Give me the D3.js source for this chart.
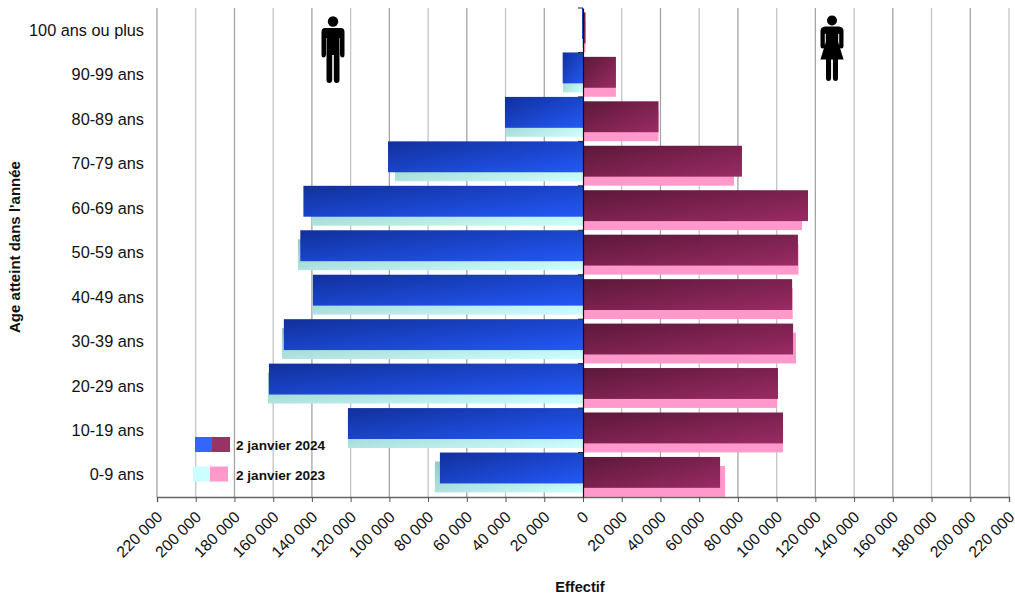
<!DOCTYPE html>
<html><head><meta charset="utf-8">
<script src="https://cdn.jsdelivr.net/npm/d3@7/dist/d3.min.js"></script>
<style>html,body{margin:0;padding:0;background:#fff}svg{display:block}text{font-family:"Liberation Sans",Arial,sans-serif}</style>
</head><body><svg id="c" width="1015" height="598"></svg>
<script>
const categories=["100 ans ou plus","90-99 ans","80-89 ans","70-79 ans","60-69 ans","50-59 ans","40-49 ans","30-39 ans","20-29 ans","10-19 ans","0-9 ans"];
const men2024=[500,10500,40300,100700,144400,146000,139500,154500,162200,121400,73900];
const men2023=[400,10300,39800,97100,140000,147200,139500,155500,162700,121400,76500];
const women2024=[1300,17000,39000,82100,116200,111000,108000,108500,100700,103300,70800];
const women2023=[1300,17000,39000,78000,113100,111300,108300,110000,100200,103300,73400];
const tickValues=[-220000,-200000,-180000,-160000,-140000,-120000,-100000,-80000,-60000,-40000,-20000,0,20000,40000,60000,80000,100000,120000,140000,160000,180000,200000,220000];
const legendLabels=["2 janvier 2024","2 janvier 2023"];
const axisTitleX="Effectif", axisTitleY="Age atteint dans l'année";

const svg=d3.select("#c");
const x=d3.scaleLinear().domain([-220000,220000]).range([157,1009]);
const y=d3.scaleBand().domain(categories).range([8,497]);
const defs=svg.append("defs");
function grad(id,a,b){const g=defs.append("linearGradient").attr("id",id).attr("x1",0).attr("y1",0).attr("x2",1).attr("y2",1);
 g.append("stop").attr("offset",0).attr("stop-color",a);g.append("stop").attr("offset",1).attr("stop-color",b);}
grad("gm24","#11309a","#2358f8");grad("gm23","#93c8c4","#ccffff");grad("gw24","#5c1839","#9a2b64");

const fmt=v=>d3.format(",")(Math.abs(v)).replace(/,/g," ");
svg.append("g").selectAll("line").data(tickValues.filter(v=>v!==0)).join("line")
 .attr("x1",d=>x(d)).attr("x2",d=>x(d)).attr("y1",8).attr("y2",497)
 .attr("stroke",(d,i)=>i%2?"#c4c4c4":"#a4a4a4").attr("stroke-width",1.3);

const H=y.bandwidth(), barH=H*0.695;
function bars(data,sign,dy,fill){
 svg.append("g").selectAll("rect").data(data).join("rect")
  .attr("x",d=>sign<0?x(-d):x(0)).attr("width",d=>Math.abs(x(d)-x(0)))
  .attr("y",(d,i)=>y(categories[i])+dy).attr("height",barH).attr("fill",fill);
}
bars(men2023,-1,9,"url(#gm23)");
bars(women2023,1,13.4,"#ff99cc");
bars(men2024,-1,0,"url(#gm24)");
bars(women2024,1,4.4,"url(#gw24)");

const ax=svg.append("g").attr("transform","translate(0,497)")
 .call(d3.axisBottom(x).tickValues(tickValues).tickFormat(fmt).tickSize(5));
ax.select(".domain").attr("stroke","#666").attr("stroke-width",1.3);
ax.selectAll(".tick line").attr("stroke","#555");
ax.selectAll("text").attr("font-size",15.8).attr("fill","#111")
 .attr("text-anchor","end").attr("dy",0).attr("y",0)
 .attr("transform","translate(6,21) rotate(-45)");

const ay=svg.append("g").attr("transform",`translate(${x(0)},0)`)
 .call(d3.axisLeft(y).tickValues(categories).tickFormat("").tickSize(0));
ay.select(".domain").attr("stroke","#111").attr("stroke-width",1.2);
svg.append("g").selectAll("line").data(categories).join("line")
 .attr("x1",x(0)-5).attr("x2",x(0)).attr("y1",d=>y(d)).attr("y2",d=>y(d)).attr("stroke","#222");
svg.append("g").selectAll("text").data(categories).join("text")
 .attr("x",144).attr("y",d=>y(d)+H/2).attr("dy","0.35em").attr("text-anchor","end")
 .attr("font-size",16.3).attr("fill","#111").text(d=>d);

svg.append("text").attr("x",580).attr("y",592).attr("text-anchor","middle").attr("font-size",14.6).attr("font-weight","bold").attr("fill","#111").text(axisTitleX);
svg.append("text").attr("transform","translate(20,247) rotate(-90)").attr("text-anchor","middle").attr("font-size",15).attr("font-weight","bold").attr("fill","#111").text(axisTitleY);

const legendColors=[["#3366ff","#993366"],["#ccffff","#ff99cc"]];
legendLabels.forEach((l,i)=>{
 const ly=i?466.5:437, lx=i?193:195;
 svg.append("rect").attr("x",lx).attr("y",ly).attr("width",17).attr("height",15).attr("fill",legendColors[i][0]);
 svg.append("rect").attr("x",lx+17).attr("y",ly).attr("width",18).attr("height",15).attr("fill",legendColors[i][1]);
 svg.append("text").attr("x",236).attr("y",ly+13).attr("font-size",13.6).attr("font-weight","bold").attr("fill","#111").text(l);
});

const man=svg.append("g").attr("fill","#000").attr("transform","translate(333,0)");
man.append("circle").attr("cx",0).attr("cy",21.5).attr("r",5.2);
man.append("path").attr("d","M-8,28 H8 Q11.5,28 11.5,32 V55 Q11.5,57.5 9.5,57.5 Q7.5,57.5 7,55 V38 H6.5 V80 Q6.5,83 3.5,83 Q1,83 0.8,80 V55 H-0.8 V80 Q-1,83 -3.5,83 Q-6.5,83 -6.5,80 V38 H-7 V55 Q-7.5,57.5 -9.5,57.5 Q-11.5,57.5 -11.5,55 V32 Q-11.5,28 -8,28 Z");
const woman=svg.append("g").attr("fill","#000").attr("transform","translate(832,0)");
woman.append("circle").attr("cx",0).attr("cy",20.5).attr("r",5);
woman.append("path").attr("d","M-7,26.5 H7 Q11.5,27 11.5,31 V46 Q11.5,48.5 9.6,48.5 Q7.6,48.5 7.2,46 V34 H6.2 V42 L11.6,59.5 H6 V78 Q6,81 3.5,81 Q1,81 0.9,78 V59.5 H-0.9 V78 Q-1,81 -3.5,81 Q-6,81 -6,78 V59.5 H-11.6 L-6.2,42 V34 H-7.2 V46 Q-7.6,48.5 -9.6,48.5 Q-11.5,48.5 -11.5,46 V31 Q-11.5,27 -7,26.5 Z");
</script></body></html>
